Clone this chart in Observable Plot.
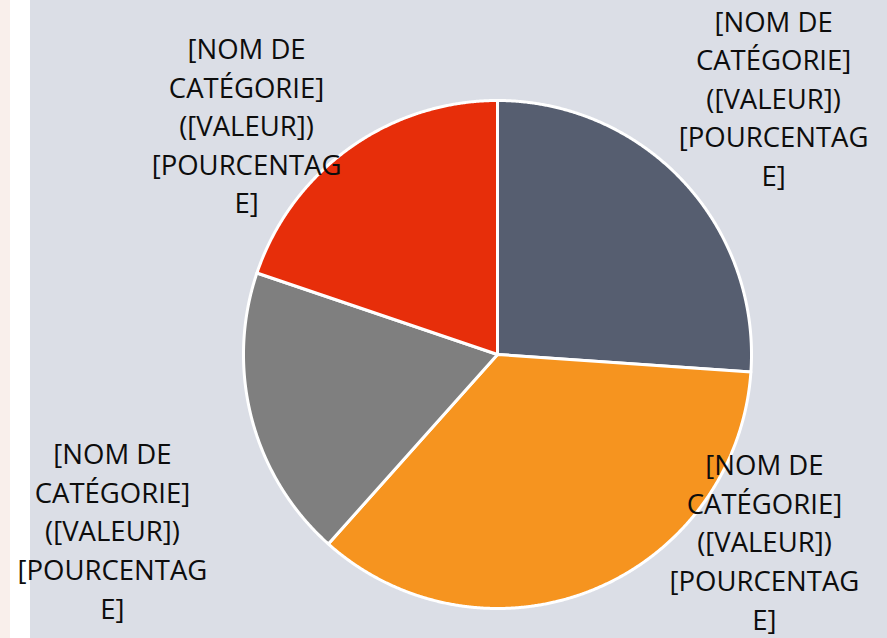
<!DOCTYPE html>
<html>
<head>
<meta charset="utf-8">
<script src="https://cdn.jsdelivr.net/npm/d3@7"></script>
<script src="https://cdn.jsdelivr.net/npm/@observablehq/plot@0.6"></script>
<style>
  html, body { margin: 0; padding: 0; background: #ffffff; }
  #chart svg { display: block; }
</style>
</head>
<body>
<div id="chart"></div>
<script>
// ---- data ----
const categories = ["Catégorie 1", "Catégorie 2", "Catégorie 3", "Catégorie 4"];
const values = [26.1, 35.5, 18.6, 19.8];
const colors = ["#565e70", "#f6941f", "#7f7f7f", "#e72e0a"];
const labelText = ["[NOM DE", "CATÉGORIE]", "([VALEUR])", "[POURCENTAG", "E]"].join("\n");

// ---- layout (not data) ----
const W = 887, H = 638, CX = 497, CY = 354, R = 254;
// label block centres, in units of the pie radius relative to the centre (y up)
const labelPos = [[1.087, 1.016], [1.051, -0.73], [-1.516, -0.687], [-0.988, 0.908]];

// build slice outlines from d3.pie angles (0 = 12 o'clock, clockwise)
const arcs = d3.pie().sort(null)(values);
const slicePts = [];
arcs.forEach((a, i) => {
  const cat = categories[i];
  slicePts.push({cat, x: 0, y: 0});
  const n = Math.max(2, Math.ceil((a.endAngle - a.startAngle) / (Math.PI / 720)));
  for (let k = 0; k <= n; k++) {
    const t = a.startAngle + (a.endAngle - a.startAngle) * k / n;
    slicePts.push({cat, x: Math.sin(t), y: Math.cos(t)});
  }
  slicePts.push({cat, x: 0, y: 0});
});
const labels = categories.map((c, i) => ({cat: c, x: labelPos[i][0], y: labelPos[i][1]}));

const chart = Plot.plot({
  width: W,
  height: H,
  margin: 0,
  x: {domain: [-CX / R, (W - CX) / R], axis: null},
  y: {domain: [(CY - H) / R, CY / R], axis: null},
  color: {domain: categories, range: colors},
  style: {
    background: "linear-gradient(to right, #f9efeb 0 10px, #ffffff 10px 30px, #dbdee6 30px)",
    fontFamily: "'Open Sans', sans-serif"
  },
  marks: [
    Plot.line(slicePts, {
      x: "x", y: "y", z: "cat", fill: "cat",
      stroke: "white", strokeWidth: 3, strokeLinejoin: "round", curve: "linear"
    }),
    Plot.text(labels, {
      x: "x", y: "y", text: () => labelText,
      fontSize: 27.5, lineHeight: 1.405, fill: "#0d0d0d",
      textAnchor: "middle", lineAnchor: "middle"
    })
  ]
});
document.getElementById("chart").appendChild(chart);
</script>
</body>
</html>
